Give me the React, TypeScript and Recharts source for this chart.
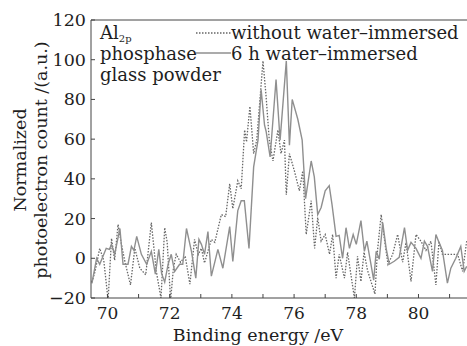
import { LineChart, Line, XAxis, YAxis, ReferenceLine } from 'recharts'

/** 6 h water-immersed (solid) */
const SOLID_E = [
  69.5, 69.65, 69.75, 69.96, 70.06, 70.13, 70.23, 70.4, 70.5, 70.66, 70.77, 70.85, 70.94, 71.09,
  71.26, 71.41, 71.54, 71.65, 71.74, 71.84, 71.95, 72.05, 72.16, 72.32, 72.42, 72.54, 72.7, 72.84,
  72.94, 73.02, 73.12, 73.23, 73.34, 73.55, 73.71, 73.93, 74.03, 74.19, 74.3, 74.4, 74.55, 74.7,
  74.84, 74.94, 75.05, 75.1, 75.23, 75.42, 75.55, 75.75, 75.85, 75.94, 76.12, 76.26, 76.37, 76.55,
  76.65, 76.76, 76.87, 77.0, 77.13, 77.22, 77.35, 77.45, 77.56, 77.67, 77.78, 77.9, 78.0, 78.15,
  78.26, 78.34, 78.45, 78.56, 78.64, 78.74, 78.85, 78.96, 79.06, 79.22, 79.38, 79.55, 79.65, 79.76,
  79.92, 80.08, 80.19, 80.29, 80.45, 80.56, 80.66, 80.77, 80.93, 81.04, 81.2, 81.36, 81.47, 81.55,
]
const SOLID_V = [
  -12.6, 0, -3, 5, 4.5, 7, 2, 15, -3, -3, 6, 4, 11, 2,
  -3, 3.5, -8, 4.5, -7.6, -12, -3, 2, -6.6, -3, -3, 15, 3.5, -10,
  9.5, 7, 2, 13.5, -9, 4.5, -5, 16, -1.6, 24, 29, 29, 5, 46,
  59.5, 85, 67, 64, 51, 90, 59.5, 99.4, 57, 80, 70, 59.5, 30, 49,
  41, 22, 25.6, 34, 36.6, 27, 11, 11.5, 0, 15.4, 5, 12, 7, 19,
  3.5, 8.6, -1, -11, 3.5, -0.5, 18, 5, -3, -1.5, 0.5, 15.4, 4, 8,
  5, 0, 8.6, 6, -6.6, 12, 8, 4, -12.5, -5, 0, 6, -6.6, -4,
]

/** without water-immersed (dotted) */
const DOT_E = [
  69.5, 69.6, 69.75, 69.88, 70.02, 70.13, 70.23, 70.34, 70.45, 70.55, 70.74, 70.88, 71.04, 71.23,
  71.41, 71.57, 71.72, 71.84, 71.92, 72.03, 72.12, 72.21, 72.35, 72.5, 72.65, 72.8, 72.92, 73.02,
  73.12, 73.34, 73.45, 73.66, 73.8, 73.93, 74.03, 74.19, 74.3, 74.41, 74.47, 74.58, 74.7, 74.8,
  75.0, 75.1, 75.2, 75.32, 75.48, 75.58, 75.69, 75.75, 75.85, 76.01, 76.17, 76.28, 76.39, 76.55,
  76.66, 76.76, 76.87, 77.0, 77.14, 77.24, 77.35, 77.45, 77.62, 77.72, 77.94, 78.04, 78.15, 78.25,
  78.36, 78.6, 78.68, 78.8, 78.91, 79.02, 79.17, 79.33, 79.49, 79.6, 79.76, 79.92, 80.08, 80.24,
  80.4, 80.56, 80.66, 80.77, 80.93, 81.09, 81.26, 81.42, 81.55,
]
const DOT_V = [
  -12, -6.6, 5, -1, -21, 10, -1, 17, 7, -1, -13.4, 5, -5, -8.3,
  18, -6.6, -20, 15.4, 8, -21, -5, 2, -2, 1, -13, 9.5, 2, 5,
  -2.4, 9.5, 8, 22, 21, 37.5, 25, 39, 35, 64.6, 58.6, 76.5, 52.7, 59.5,
  99.4, 81.5, 60, 49, 64.6, 52.7, 59.5, 32, 52.7, 44, 34, 44, 12, 29,
  5, 20.5, 8.6, 12, 2, 12, -10, 2, -10, 3, -20, 1, -11.7, 3,
  -6, -18, 3.5, 22, 9, -3, 2, 12, -2, 8, -11.7, 12, 8.6, 4,
  8.6, -13.4, 8.6, 2, 2, 2, 2, -6.6, 8.6,
]

const X_TICKS = [70, 71, 72, 73, 74, 75, 76, 77, 78, 79, 80, 81]
const Y_TICKS = [-20, -10, 0, 10, 20, 30, 40, 50, 60, 70, 80, 90, 100, 110, 120]

const solidData = SOLID_E.map((e, i) => ({ e, v: SOLID_V[i] }))
const dotData = DOT_E.map((e, i) => ({ e, v: DOT_V[i] }))

const FONT = '"DejaVu Serif", serif'
const AXIS = '#444'
const TXT = '#1e1e1e'

function XTick(props: any) {
  const { x, y, payload } = props
  if (payload.value % 2 !== 0) return <g />
  return (
    <text x={x} y={y + 21} textAnchor="middle" fontFamily={FONT} fontSize={17} fill={TXT}>
      {payload.value}
    </text>
  )
}

function YTick(props: any) {
  const { x, y, payload } = props
  if (payload.value % 20 !== 0) return <g />
  return (
    <text x={x - 5} y={y + 6} textAnchor="end" fontFamily={FONT} fontSize={17.5} fill={TXT}>
      {payload.value === -20 ? '\u221220' : payload.value}
    </text>
  )
}

export default function App() {
  return (
    <div style={{ position: 'absolute', left: 0, top: 0, width: 467, height: 346, background: '#fff' }}>
      <LineChart width={467} height={346} margin={{ top: 20, right: 0, bottom: 0, left: 0 }}>
        <XAxis
          type="number"
          dataKey="e"
          domain={[69.47, 81.56]}
          allowDataOverflow
          ticks={X_TICKS}
          height={48}
          stroke={AXIS}
          tickSize={-4}
          tickMargin={4}
          tick={<XTick />}
        />
        <YAxis
          type="number"
          dataKey="v"
          domain={[-20, 120]}
          allowDataOverflow
          ticks={Y_TICKS}
          width={91}
          stroke={AXIS}
          tickSize={-4}
          tickMargin={4}
          tick={<YTick />}
        />
        <ReferenceLine y={120} stroke={AXIS} />
        <Line
          data={dotData}
          dataKey="v"
          type="linear"
          stroke="#666"
          strokeWidth={1.3}
          strokeDasharray="1.5 1.5"
          dot={false}
          isAnimationActive={false}
        />
        <Line
          data={solidData}
          dataKey="v"
          type="linear"
          stroke="#8f8f8f"
          strokeWidth={1.4}
          dot={false}
          isAnimationActive={false}
        />
      </LineChart>
      <svg
        width={467}
        height={346}
        style={{ position: 'absolute', left: 0, top: 0, pointerEvents: 'none' }}
        fontFamily={FONT}
        fill={TXT}
      >
        <text x={100} y={39} fontSize={18}>
          Al<tspan fontSize={10} dy={3}>2p</tspan>
        </text>
        <text x={100} y={60} fontSize={18}>phosphase</text>
        <text x={100} y={81} fontSize={18}>glass powder</text>
        <line x1={196} x2={231} y1={33} y2={33} stroke="#666" strokeWidth={1.3} strokeDasharray="1.5 1.5" />
        <text x={231} y={39} fontSize={18}>without water–immersed</text>
        <line x1={196} x2={231} y1={53} y2={53} stroke="#8f8f8f" strokeWidth={1.4} />
        <text x={231} y={60} fontSize={18}>6 h water–immersed</text>
        <text x={258} y={341} fontSize={17.5} textAnchor="middle">Binding energy /eV</text>
        <text transform="translate(26,160) rotate(-90)" fontSize={17.5} textAnchor="middle">Normalized</text>
        <text transform="translate(47,160) rotate(-90)" fontSize={17.5} textAnchor="middle">photoelectron count /(a.u.)</text>
      </svg>
    </div>
  )
}
